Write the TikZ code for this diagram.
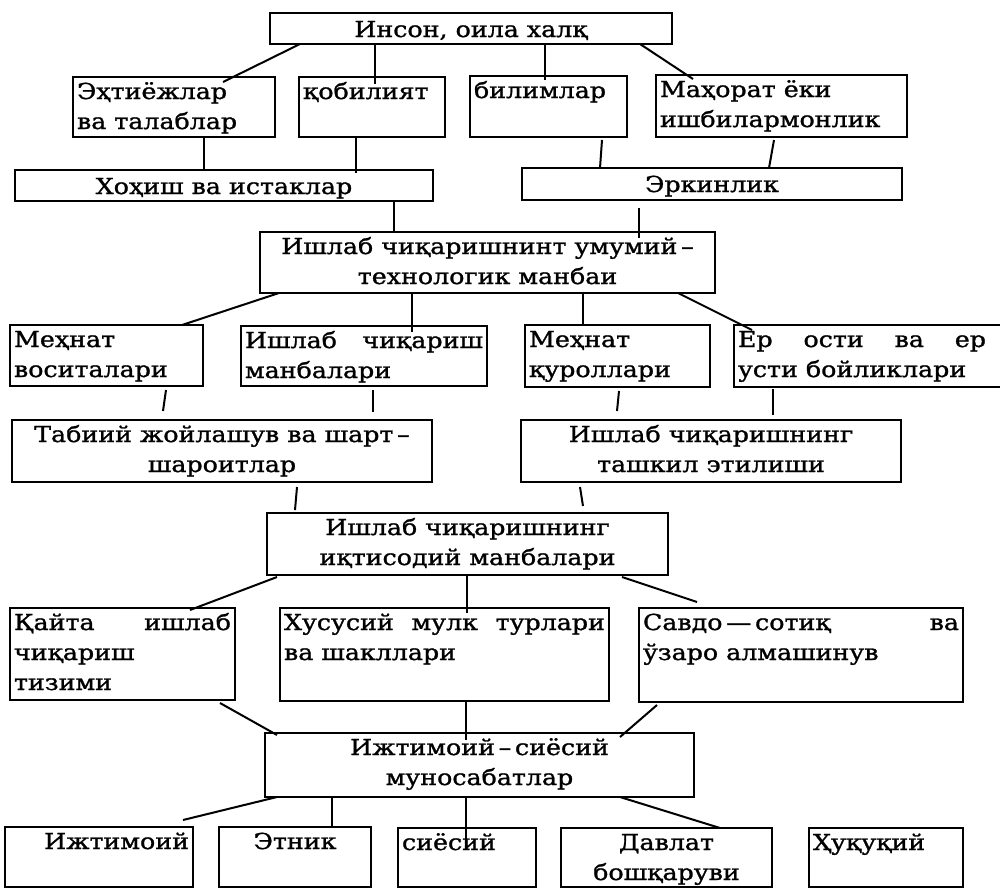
\documentclass[tikz,border=0pt]{standalone}
\usepackage{fontspec}
\setmainfont{DejaVu Serif}[FakeStretch=1.15, FakeBold=1.2]
\usetikzlibrary{calc}
\newcommand\cellbox[7]{%
  \node[cell] (#1) at (#2,#3) {\parbox[t][\dimexpr #5pt-#3pt\relax][t]{\dimexpr #4pt-#2pt-8pt\relax}{#6\rule{0pt}{22pt}#7\strut}};}
\tikzset{
  cell/.style={draw, line width=2pt, rectangle, anchor=north west, inner xsep=4pt, inner ysep=0pt, outer sep=0pt, font=\fontsize{22}{30}\selectfont},
  conn/.style={line width=2pt}
}
\begin{document}
\begin{tikzpicture}[x=1pt,y=-1pt]
\useasboundingbox (0,0) rectangle (1000,889);
% row 1
\cellbox{top}{270}{13}{672}{44}{\centering\rule{0pt}{24pt}}{Инсон, оила халқ}
% row 2
\cellbox{ehtiyoj}{73}{77}{275}{137}{\raggedright}{Эҳтиёжлар\\ ва талаблар}
\cellbox{qobil}{299}{77}{445}{137}{\raggedright}{қобилият}
\cellbox{bilim}{470}{76}{627}{137}{\raggedright}{билимлар}
\cellbox{mahorat}{656}{75}{907}{137}{\raggedright}{Маҳорат ёки\\ ишбилармонлик}
% row 3
\cellbox{hohish}{15}{170}{433}{201}{\centering\rule{0pt}{24pt}}{Хоҳиш ва истаклар}
\cellbox{erkin}{522}{168}{902}{200}{\centering\rule{0pt}{24pt}}{Эркинлик}
% row 4
\cellbox{tech}{260}{232}{715}{293}{\centering}{Ишлаб чиқаришнинт умумий\,–\\ технологик манбаи}
% row 5
\cellbox{mvosita}{10}{325}{203}{386}{\raggedright}{Меҳнат\\ воситалари}
\cellbox{imanba}{241}{326}{487}{386}{}{Ишлаб чиқариш\linebreak манбалари}
\cellbox{mqurol}{525}{325}{710}{387}{\raggedright}{Меҳнат\\ қуроллари}
\cellbox{yer}{734}{325}{1012}{387}{\rightskip=22pt\relax}{Ер ости ва ер\linebreak усти бойликлари}
% row 6
\cellbox{tabiiy}{12}{420}{432}{482}{\centering}{Табиий жойлашув ва шарт\,–\\ шароитлар}
\cellbox{tashkil}{521}{420}{901}{482}{\centering}{Ишлаб чиқаришнинг\\ ташкил этилиши}
% row 7
\cellbox{iqtisod}{267}{513}{668}{575}{\centering}{Ишлаб чиқаришнинг\\ иқтисодий манбалари}
% row 8
\cellbox{qayta}{10}{608}{235}{700}{}{Қайта ишлаб\linebreak чиқариш\\ тизими}
\cellbox{xusus}{280}{608}{609}{701}{}{Хусусий мулк турлари\linebreak ва шакллари}
\cellbox{savdo}{639}{608}{963}{702}{}{Савдо\,—\,сотиқ ва\linebreak ўзаро алмашинув}
% row 9
\cellbox{ijtim}{265}{733}{694}{797}{\centering}{Ижтимоий\,–\,сиёсий\\ муносабатлар}
% row 10
\cellbox{ijt9}{5}{827}{193}{887}{\raggedleft}{Ижтимоий}
\cellbox{etnik}{219}{827}{371}{887}{\centering}{Этник}
\cellbox{siyos}{398}{828}{536}{887}{\raggedright}{сиёсий}
\cellbox{davlat}{561}{828}{772}{887}{\centering}{Давлат\\ бошқаруви}
\cellbox{huquq}{809}{828}{963}{887}{\raggedright}{Ҳуқуқий}
% connectors
\draw[conn] (300,0 |- top.south) -- ($(223,0 |- ehtiyoj.north)+(0,5)$);
\draw[conn] (375,0 |- top.south) -- ($(375,0 |- qobil.north)+(0,7)$);
\draw[conn] (545,0 |- top.south) -- ($(545,0 |- bilim.north)+(0,4)$);
\draw[conn] (640,0 |- top.south) -- ($(693,0 |- mahorat.north)+(0,4)$);
\draw[conn] (204,0 |- ehtiyoj.south) -- (204,0 |- hohish.north);
\draw[conn] (356,0 |- qobil.south) -- ($(356,0 |- hohish.north)+(0,3)$);
\draw[conn] ($(602,0 |- bilim.south)+(0,3)$) -- (600,0 |- erkin.north);
\draw[conn] ($(774,0 |- mahorat.south)+(0,3)$) -- (769,0 |- erkin.north);
\draw[conn] (394,0 |- hohish.south) -- (394,0 |- tech.north);
\draw[conn] ($(639,0 |- erkin.south)+(0,8)$) -- ($(639,0 |- tech.north)+(0,6)$);
\draw[conn] (279,0 |- tech.south) -- (182,0 |- mvosita.north);
\draw[conn] (412,0 |- tech.south) -- ($(412,0 |- imanba.north)+(0,6)$);
\draw[conn] (583,0 |- tech.south) -- (583,0 |- mqurol.north);
\draw[conn] (678,0 |- tech.south) -- ($(752,0 |- yer.north)+(0,5)$);
\draw[conn] ($(166,0 |- mvosita.south)+(0,4)$) -- ($(163,0 |- tabiiy.north)+(0,-9)$);
\draw[conn] ($(373,0 |- imanba.south)+(0,4)$) -- ($(373,0 |- tabiiy.north)+(0,-8)$);
\draw[conn] ($(619,0 |- mqurol.south)+(0,4)$) -- ($(617,0 |- tashkil.north)+(0,-9)$);
\draw[conn] ($(773,0 |- yer.south)+(0,2)$) -- ($(773,0 |- tashkil.north)+(0,-5)$);
\draw[conn] ($(297,0 |- tabiiy.south)+(0,5)$) -- ($(295,0 |- iqtisod.north)+(0,-3)$);
\draw[conn] ($(580,0 |- tashkil.south)+(0,5)$) -- ($(583,0 |- iqtisod.north)+(0,-7)$);
\draw[conn] ($(277,0 |- iqtisod.south)+(0,2)$) -- ($(190,0 |- qayta.north)+(0,2)$);
\draw[conn] (467,0 |- iqtisod.south) -- ($(467,0 |- xusus.north)+(0,5)$);
\draw[conn] ($(622,0 |- iqtisod.south)+(0,2)$) -- ($(697,0 |- savdo.north)+(0,-6)$);
\draw[conn] ($(220,0 |- qayta.south)+(0,3)$) -- ($(277,0 |- ijtim.north)+(0,2)$);
\draw[conn] (466,0 |- xusus.south) -- ($(466,0 |- ijtim.north)+(0,7)$);
\draw[conn] ($(657,0 |- savdo.south)+(0,3)$) -- ($(620,0 |- ijtim.north)+(0,4)$);
\draw[conn] (277,0 |- ijtim.south) -- ($(183,0 |- ijt9.north)+(0,-7)$);
\draw[conn] (332,0 |- ijtim.south) -- (332,0 |- etnik.north);
\draw[conn] (466,0 |- ijtim.south) -- ($(466,0 |- siyos.north)+(0,14)$);
\draw[conn] (620,0 |- ijtim.south) -- (720,0 |- davlat.north);
\end{tikzpicture}
\end{document}
